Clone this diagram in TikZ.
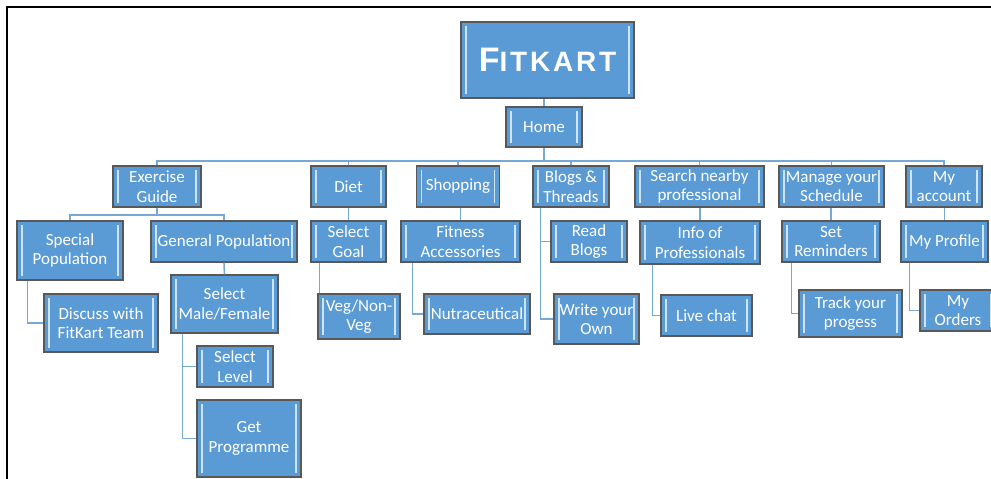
\documentclass[tikz,border=0pt]{standalone}
\usepackage{fontspec}
\setmainfont{Carlito}
\newfontfamily\titlefont[LetterSpace=10]{Liberation Sans}
\usetikzlibrary{calc}
\definecolor{boxblue}{RGB}{91,155,213}
\definecolor{boxedge}{RGB}{88,88,88}
\definecolor{bevelblue}{RGB}{205,228,250}
\definecolor{linkblue}{RGB}{120,168,215}

\begin{document}
\begin{tikzpicture}[x=1pt,y=-1pt,
  box/.style={draw=boxedge,line width=1.4pt,fill=boxblue,text=white,align=center,inner sep=0pt,
    font=\fontsize{17}{19.5}\selectfont,
    path picture={\draw[bevelblue,line width=1.8pt]
      ([xshift=5pt,yshift=-4pt]path picture bounding box.north west) -- ([xshift=5pt,yshift=4pt]path picture bounding box.south west)
      ([xshift=-5pt,yshift=-4pt]path picture bounding box.north east) -- ([xshift=-5pt,yshift=4pt]path picture bounding box.south east);}},
  wh/.style 2 args={minimum width=#1pt,minimum height=#2pt},
  link/.style={draw=linkblue,line width=1.6pt}]
\useasboundingbox (0,0) rectangle (991,479);
\draw[line width=2pt] (991,7) -- (7,7) -- (7,479);

% top of the tree
\node[box,wh={173}{76}] (fitkart) at (547.5,60) {\titlefont\bfseries{\fontsize{34}{34}\selectfont F}\fontsize{28}{28}\selectfont ITKART};
\node[box,wh={76}{40}] (home) at (544,127) {Home};

% first level
\node[box,wh={88}{41}] (exercise) at (157,186.5) {Exercise\\Guide};
\node[box,wh={75}{41}] (diet) at (348.5,186.5) {Diet};
\node[box,wh={83}{41}] (shopping) at (458,186.5) {Shopping};
\node[box,wh={76}{41}] (blogs) at (571,186.5) {Blogs \&\\Threads};
\node[box,wh={129}{41}] (search) at (699.5,186.5) {Search nearby\\professional};
\node[box,wh={105}{41}] (manage) at (831.5,186.5) {Manage your\\Schedule};
\node[box,wh={76}{41}] (account) at (944,186.5) {My\\account};

% exercise guide
\node[box,wh={106}{59}] (special) at (70,250.5) {Special\\Population};
\node[box,wh={146}{41}] (general) at (224,241.5) {General Population};
\node[box,wh={114}{58}] (discuss) at (101,323) {Discuss with\\FitKart Team};
\node[box,wh={107}{58}] (gender) at (224.5,304) {Select\\Male/Female};
\node[box,wh={76}{41}] (level) at (235,366.5) {Select\\Level};
\node[box,wh={104}{77}] (programme) at (249,438.5) {Get\\Programme};

% the other branches
\node[box,wh={75}{41}] (goal) at (348.5,241.5) {Select\\Goal};
\node[box,wh={82}{45}] (veg) at (359,316.5) {Veg/Non-\\Veg};
\node[box,wh={119}{41}] (fitness) at (460.5,241.5) {Fitness\\Accessories};
\node[box,wh={106}{40}] (nutra) at (477,314) {Nutraceutical};
\node[box,wh={76}{41}] (read) at (589,241.5) {Read\\Blogs};
\node[box,wh={85}{50}] (write) at (596.5,319) {Write your\\Own};
\node[box,wh={120}{43}] (info) at (700,242.5) {Info of\\Professionals};
\node[box,wh={91}{41}] (chat) at (706.5,315.5) {Live chat};
\node[box,wh={98}{41}] (remind) at (831,241.5) {Set\\Reminders};
\node[box,wh={103}{47}] (track) at (850.5,313.5) {Track your\\progess};
\node[box,wh={87}{41}] (profile) at (944.5,241.5) {My Profile};
\node[box,wh={76}{41}] (orders) at (958,310.5) {My\\Orders};

% connectors
\coordinate (hub) at ([yshift=-13pt]home.south);
\draw[link] (home.north) -- (home.north |- fitkart.south);
\draw[link] (home.south) -- (hub);
\foreach \n in {exercise,diet,shopping,blogs,search,manage,account}
  \draw[link] (\n.north) |- (hub);
\coordinate (eghub) at ([yshift=-7pt]exercise.south);
\draw[link] (exercise.south) -- (eghub);
\draw[link] (special.north) |- (eghub);
\draw[link] (general.north) |- (eghub);
\draw[link] ([xshift=11pt]special.south west) |- (discuss.west);
\draw[link] (general.south) -- (gender.north);
\draw[link] ([xshift=12pt]gender.south west) |- (level.west);
\draw[link] ([xshift=12pt]gender.south west) |- (programme.west);
\draw[link] (diet.south) -- (goal.north);
\draw[link] ([xshift=9pt]goal.south west) -- ([xshift=9pt]goal.south west |- veg.north);
\draw[link] (fitness.north) -- (fitness.north |- shopping.south);
\draw[link] ([xshift=12pt]fitness.south west) |- (nutra.west);
\draw[link] ([xshift=8pt]blogs.south west) |- (read.west);
\draw[link] ([xshift=8pt]blogs.south west) |- (write.west);
\draw[link] (info.north) -- (info.north |- search.south);
\draw[link] ([xshift=13pt]info.south west) |- (chat.west);
\draw[link] (remind.north) -- (remind.north |- manage.south);
\draw[link] ([xshift=10pt]remind.south west) |- (track.west);
\draw[link] (profile.north) -- (profile.north |- account.south);
\draw[link] ([xshift=9pt]profile.south west) |- (orders.west);
\end{tikzpicture}
\end{document}
